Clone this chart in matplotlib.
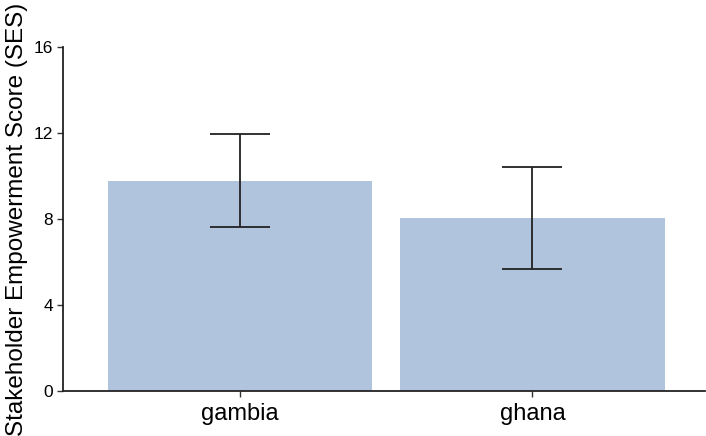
import matplotlib
matplotlib.use("Agg")
import matplotlib.pyplot as plt

# mean stakeholder empowerment score per country, with error half-widths
countries = ["gambia", "ghana"]
ses_mean = [9.79, 8.04]
ses_err = [2.18, 2.39]

plt.rcParams["font.family"] = ["Liberation Sans", "DejaVu Sans"]

fig = plt.figure(figsize=(7.06, 4.36), dpi=100)
ax = fig.add_axes([0.0892, 0.1039, 0.9094, 0.7876])

x = range(len(countries))
ax.bar(x, ses_mean, width=0.904, color="#B0C4DE", zorder=1)
ax.errorbar(x, ses_mean, yerr=ses_err, fmt="none", ecolor="#222222",
            elinewidth=1.3, capsize=21.6, capthick=1.3, zorder=2)

ax.set_xlim(-0.605, 1.59)
ax.set_ylim(0, 16)
ax.set_yticks([0, 4, 8, 12, 16])
ax.set_xticks(list(x))
ax.set_xticklabels(countries, fontsize=17)
ax.tick_params(axis="y", labelsize=12.5, length=4, width=1, color="#333333", pad=3)
ax.tick_params(axis="x", length=4, width=1, color="#333333", pad=5)
ax.set_ylabel("Stakeholder Empowerment Score (SES)", fontsize=17.5, labelpad=4)

for side in ["top", "right"]:
    ax.spines[side].set_visible(False)
for side in ["left", "bottom"]:
    ax.spines[side].set_color("#222222")
    ax.spines[side].set_linewidth(1.3)

fig.savefig("out.png", dpi=100)
